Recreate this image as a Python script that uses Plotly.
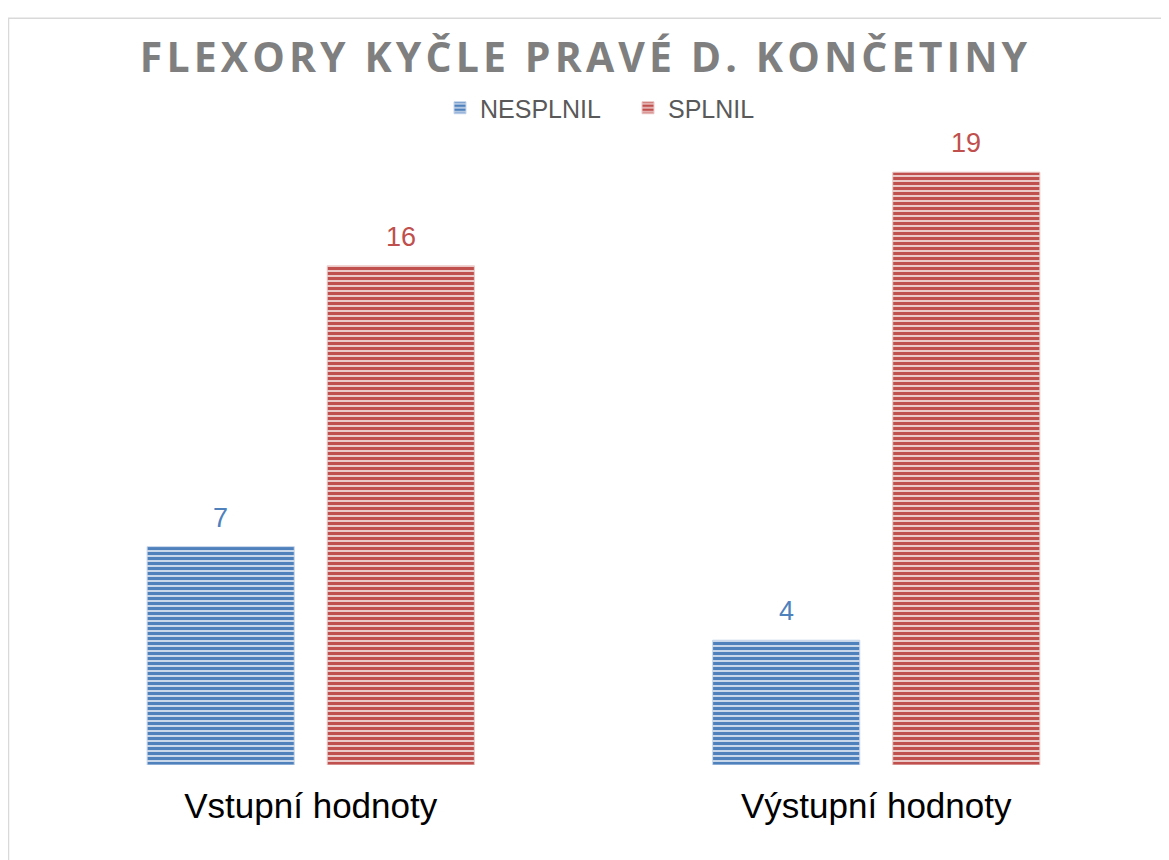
import plotly.graph_objects as go

categories = ["Vstupní hodnoty", "Výstupní hodnoty"]
series_names = ["NESPLNIL", "SPLNIL"]
nesplnil = [7, 4]
splnil = [16, 19]
title_text = "FLEXORY KYČLE PRAVÉ D. KONČETINY"

colors = {"NESPLNIL": ("#4F81BD", "#C9D7EB"), "SPLNIL": ("#C0504D", "#EBC9C8")}
values = {"NESPLNIL": nesplnil, "SPLNIL": splnil}

W, H = 1161, 852  # page body has an 8px margin

fig = go.Figure()
for name in series_names:
    fg, bg = colors[name]
    fig.add_trace(go.Bar(
        x=categories, y=values[name], name=name,
        marker=dict(color=bg, line=dict(color=bg, width=1),
                    pattern=dict(shape="-", fgcolor=fg, bgcolor=bg, size=5, solidity=0.6, fillmode="replace")),
    ))

# data labels
slot = 180 / 565.0
offsets = {"NESPLNIL": -slot / 2, "SPLNIL": slot / 2}
annotations = []
for name in series_names:
    for i, v in enumerate(values[name]):
        annotations.append(dict(
            x=i + offsets[name], y=v, xref="x", yref="y", text=str(v),
            showarrow=False, yanchor="bottom", yshift=12,
            font=dict(family="Liberation Sans", size=27, color=colors[name][0]),
        ))

spaced_title = "\u200a".join(title_text)

fig.update_layout(
    width=W, height=H,
    margin=dict(l=20, r=10, t=127, b=95),
    paper_bgcolor="white", plot_bgcolor="white",
    barmode="group", bargap=0.363, bargroupgap=0.183,
    title=dict(text=spaced_title, x=575.5 / W, xanchor="center", xref="container",
               y=1 - 50 / H, yanchor="middle", yref="container",
               font=dict(family="Open Sans", size=41, color="#7F7F7F", weight="bold")),
    legend=dict(orientation="h", xref="container", x=432 / W, xanchor="left",
                yref="container", y=1 - 100 / H, yanchor="middle",
                entrywidth=143, entrywidthmode="pixels",
                font=dict(family="Liberation Sans", size=25, color="#595959"),
                bgcolor="rgba(0,0,0,0)"),
    showlegend=True,
    annotations=annotations,
    shapes=[dict(type="rect", xref="paper", yref="paper",
                 x0=(0.5 - 20) / 1131, x1=(1170 - 20) / 1131,
                 y0=(757 - 870) / 630, y1=(757 - 3) / 630,
                 line=dict(color="#D9D9D9", width=1.5), fillcolor="rgba(0,0,0,0)", layer="below")],
)
fig.update_xaxes(showline=False, showgrid=False, zeroline=False, ticks="",
                 ticklabelstandoff=17,
                 tickfont=dict(family="Liberation Sans", size=35, color="#000000"))
fig.update_yaxes(range=[0, 20], visible=False, showgrid=False, zeroline=False)

fig.write_html("out.html")
